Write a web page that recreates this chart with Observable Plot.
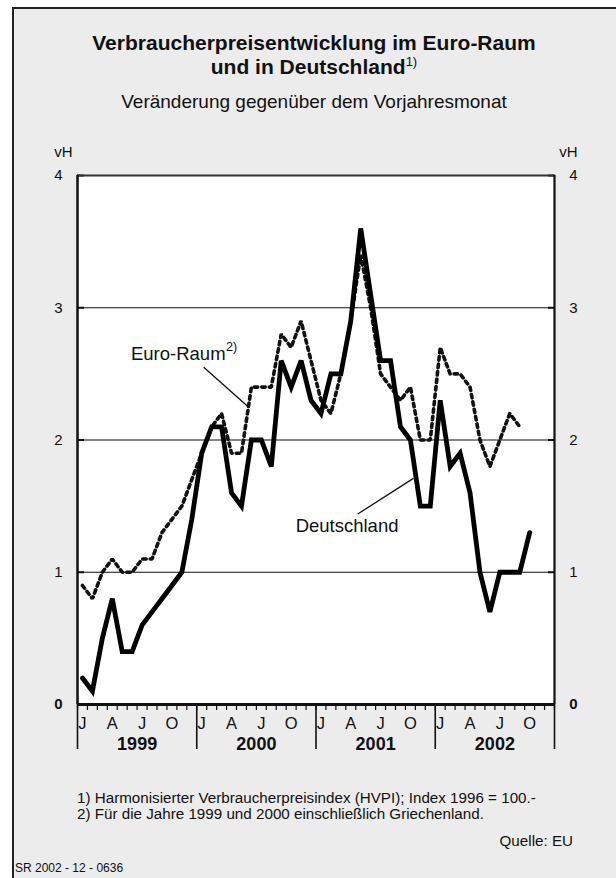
<!DOCTYPE html>
<html><head><meta charset="utf-8">
<script src="https://cdn.jsdelivr.net/npm/d3@7"></script>
<script src="https://cdn.jsdelivr.net/npm/@observablehq/plot@0.6"></script>
<style>
body{margin:0;background:#fff;font-family:"Liberation Sans",Arial,sans-serif;color:#111;}
#page{position:relative;width:616px;height:878px;overflow:hidden;}
#panel{position:absolute;left:12px;top:7px;width:620px;height:880px;background:#ececec;border-left:2px solid #222;border-top:2px solid #222;}
.t{position:absolute;white-space:nowrap;line-height:1;}
.c{left:0;width:628px;text-align:center;}
sup{font-size:62%;vertical-align:0;position:relative;top:-0.6em;font-weight:normal;}
#chart{position:absolute;left:0;top:140px;}
</style></head>
<body><div id="page"><div id="panel"></div>
<div class="t c" style="top:32px;font-size:21px;font-weight:bold;">Verbraucherpreisentwicklung im Euro-Raum</div>
<div class="t c" style="top:56px;font-size:21px;font-weight:bold;">und in Deutschland<sup>1)</sup></div>
<div class="t c" style="top:92px;font-size:19px;">Veränderung gegenüber dem Vorjahresmonat</div>
<div id="chart"></div>
<div class="t" style="left:77px;top:790px;font-size:15.2px;">1) Harmonisierter Verbraucherpreisindex (HVPI); Index 1996 = 100.-</div>
<div class="t" style="left:77px;top:806px;font-size:15.2px;">2) Für die Jahre 1999 und 2000 einschließlich Griechenland.</div>
<div class="t" style="right:43px;top:833px;font-size:15.2px;">Quelle: EU</div>
<div class="t" style="left:15px;top:862px;font-size:12px;">SR 2002 - 12 - 0636</div>
</div>
<script>
// Years and months
const years = ["1999", "2000", "2001", "2002"];
const monthLetters = ["J", "A", "J", "O"]; // Jan, Apr, Jul, Oct
const monthLetterOffsets = [0, 3, 6, 9];
// Year-on-year change (vH), monthly from Jan 1999
const deutschland = [
  0.2, 0.1, 0.5, 0.8, 0.4, 0.4, 0.6, 0.7, 0.8, 0.9, 1.0, 1.4,
  1.9, 2.1, 2.1, 1.6, 1.5, 2.0, 2.0, 1.8, 2.6, 2.4, 2.6, 2.3,
  2.2, 2.5, 2.5, 2.9, 3.6, 3.1, 2.6, 2.6, 2.1, 2.0, 1.5, 1.5,
  2.3, 1.8, 1.9, 1.6, 1.0, 0.7, 1.0, 1.0, 1.0, 1.3
];
const euroRaum = [
  0.9, 0.8, 1.0, 1.1, 1.0, 1.0, 1.1, 1.1, 1.3, 1.4, 1.5, 1.7,
  1.9, 2.1, 2.2, 1.9, 1.9, 2.4, 2.4, 2.4, 2.8, 2.7, 2.9, 2.6,
  2.3, 2.2, 2.5, 2.9, 3.4, 3.0, 2.5, 2.4, 2.3, 2.4, 2.0, 2.0,
  2.7, 2.5, 2.5, 2.4, 2.0, 1.8, 2.0, 2.2, 2.1
];
const yTickLabels = [1, 2, 3, 4];
const yZero = [0];
const yGrid = [1, 2, 3];

const nMonths = years.length * 12;
const de = deutschland.map((v, i) => ({x: i + 0.5, y: v}));
const eu = euroRaum.map((v, i) => ({x: i + 0.5, y: v}));
const monthLabels = years.flatMap((yr, yi) => monthLetters.map((l, k) => ({x: yi * 12 + monthLetterOffsets[k] + 0.5, label: l})));
const yearLabels = years.map((yr, yi) => ({x: yi * 12 + 6, label: yr}));
const monthBounds = d3.range(0, nMonths + 1);
const yearBounds = d3.range(0, nMonths + 1, 12);

// annotation positions (data coordinates)
const notes = [
  {x: 14.9, y: 2.65, text: "Euro-Raum", sup: "2)"},
  {x: 32.3, y: 1.35, text: "Deutschland", sup: ""}
];
const leaders = [
  {x1: 12.7, y1: 2.55, x2: 17.2, y2: 2.25},
  {x1: 28.2, y1: 1.44, x2: 33.8, y2: 1.71}
];

const F = "Liberation Sans, Arial, sans-serif";
const chart = Plot.plot({
  width: 616, height: 624,
  marginLeft: 77, marginRight: 62, marginTop: 35, marginBottom: 60,
  style: {background: "transparent", fontFamily: F, color: "#111", overflow: "visible"},
  x: {domain: [0, nMonths], axis: null},
  y: {domain: [0, 4], axis: null},
  marks: [
    Plot.frame({fill: "white", stroke: null}),
    Plot.ruleY(yGrid, {stroke: "#111", strokeWidth: 1.2}),
    Plot.axisY({anchor: "left", ticks: yTickLabels, tickSize: -7, tickFormat: () => "", strokeWidth: 2, stroke: "#111"}),
    Plot.axisY({anchor: "right", ticks: yTickLabels, tickSize: -7, tickFormat: () => "", strokeWidth: 2, stroke: "#111"}),
    Plot.axisX({anchor: "bottom", ticks: monthBounds, tickSize: 6, tickFormat: () => "", strokeWidth: 1.2, stroke: "#111"}),
    Plot.axisX({anchor: "bottom", ticks: yearBounds, tickSize: 45, tickFormat: () => "", strokeWidth: 1.6, stroke: "#111"}),
    Plot.ruleY([4], {stroke: "#333", strokeWidth: 2}),
    Plot.ruleX([0], {stroke: "#111", strokeWidth: 2.5}),
    Plot.ruleX([nMonths], {stroke: "#111", strokeWidth: 2.2}),
    Plot.ruleY(yZero, {stroke: "#111", strokeWidth: 3.2}),
    Plot.line(eu, {x: "x", y: "y", stroke: "#111", strokeWidth: 3.6, strokeDasharray: "3.5,4", strokeLinejoin: "miter"}),
    Plot.line(de, {x: "x", y: "y", stroke: "#000", strokeWidth: 4.8, strokeLinejoin: "miter", strokeMiterlimit: 3}),
    Plot.link(leaders, {x1: "x1", y1: "y1", x2: "x2", y2: "y2", stroke: "#111", strokeWidth: 1.3}),
    Plot.text(notes, {x: "x", y: "y", text: "text", textAnchor: "end", fontSize: 18.5, fill: "#111"}),
    Plot.text(notes, {x: "x", y: "y", text: "sup", textAnchor: "start", fontSize: 12.5, dy: -7, dx: 0.5, fill: "#111"}),
    // y tick labels
    Plot.text(yTickLabels, {x: () => 0, y: d => d, text: d => String(d), dx: -19, fontSize: 15, fill: "#111"}),
    Plot.text(yTickLabels, {x: () => nMonths, y: d => d, text: d => String(d), dx: 19, fontSize: 15, fill: "#111"}),
    Plot.text(yZero, {x: () => 0, y: d => d, text: d => String(d), dx: -19, fontSize: 15, fontWeight: "bold", fill: "#111"}),
    Plot.text(yZero, {x: () => nMonths, y: d => d, text: d => String(d), dx: 19, fontSize: 15, fontWeight: "bold", fill: "#111"}),
    Plot.text(["vH"], {x: () => 0, y: () => 4, text: d => d, dx: -14, dy: -23, fontSize: 15, fill: "#111"}),
    Plot.text(["vH"], {x: () => nMonths, y: () => 4, text: d => d, dx: 14, dy: -23, fontSize: 15, fill: "#111"}),
    // month & year labels
    Plot.text(monthLabels, {x: "x", y: () => 0, text: "label", dy: 19, fontSize: 16.5, fill: "#111"}),
    Plot.text(yearLabels, {x: "x", y: () => 0, text: "label", dy: 40, fontSize: 18, fontWeight: "bold", fill: "#111"})
  ]
});
document.getElementById("chart").appendChild(chart);
</script>
</body></html>
